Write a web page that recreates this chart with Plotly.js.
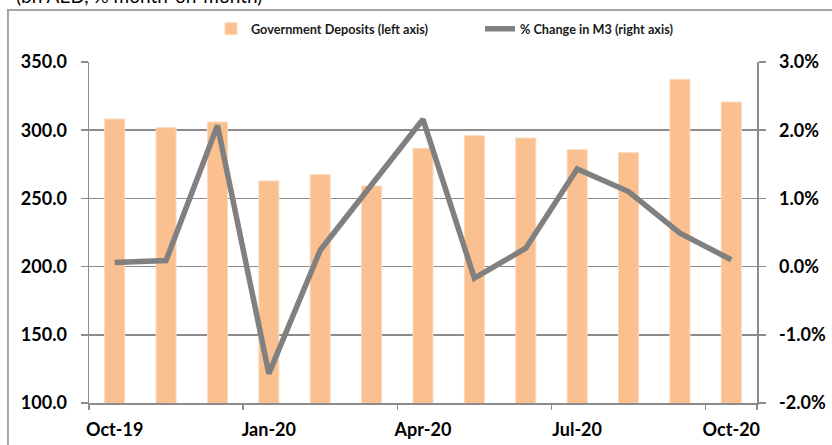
<!DOCTYPE html>
<html>
<head>
<meta charset="utf-8">
<script src="https://cdn.plot.ly/plotly-3.0.1.min.js"></script>
<style>
  html, body { margin: 0; padding: 0; background: #fff; }
  #chart { width: 832px; height: 445px; }
</style>
</head>
<body>
<div id="chart"></div>
<script>
const months = ['Oct-19','Nov-19','Dec-19','Jan-20','Feb-20','Mar-20','Apr-20','May-20','Jun-20','Jul-20','Aug-20','Sep-20','Oct-20'];
const govDeposits = [308.2, 301.8, 306.0, 262.8, 267.4, 259.1, 286.7, 296.0, 294.3, 285.7, 283.5, 337.3, 320.7];
const m3Change = [0.0006, 0.0009, 0.0207, -0.0157, 0.0024, 0.0121, 0.0216, -0.0017, 0.0027, 0.0143, 0.0110, 0.0049, 0.0010];
const labelMonths = ['Oct-19','Jan-20','Apr-20','Jul-20','Oct-20'];
const leftTicks = [100, 150, 200, 250, 300, 350];
const rightTicks = [-0.02, -0.01, 0, 0.01, 0.02, 0.03];
const rightTickText = rightTicks.map(v => (v * 100).toFixed(1) + '%');

const FONT = 'Lato, "Open Sans", sans-serif';
const AX = '#8c8c8c';

const traces = [
  {
    type: 'bar', x: months, y: govDeposits, name: 'Government Deposits (left axis)',
    marker: { color: '#FAC090', line: { color: '#FCD9BC', width: 1 } },
    xaxis: 'x', yaxis: 'y'
  },
  {
    type: 'scatter', mode: 'lines', x: months, y: m3Change, name: '% Change in M3 (right axis)',
    line: { color: '#808080', width: 5.5 },
    xaxis: 'x', yaxis: 'y2'
  }
];

const layout = {
  width: 832, height: 445,
  margin: { l: 89, r: 75, t: 62, b: 42, pad: 0 },
  paper_bgcolor: '#fff', plot_bgcolor: '#fff',
  font: { family: FONT, color: '#000' },
  bargap: 0.61,
  showlegend: true,
  legend: {
    orientation: 'h', x: 0.1826, xanchor: 'left', y: 1.0968, yanchor: 'middle',
    font: { family: FONT, size: 12.7, color: '#1a1a1a', weight: 'bold' },
    bgcolor: 'rgba(0,0,0,0)', itemwidth: 30, tracegroupgap: 0,
    entrywidth: 224, entrywidthmode: 'pixels'
  },
  xaxis: {
    type: 'category', categoryorder: 'array', categoryarray: months,
    range: [-0.5, 12.5],
    tickmode: 'array', tickvals: labelMonths, ticktext: labelMonths,
    tickson: 'boundaries', tickangle: 0,
    ticks: 'outside', ticklen: 5, tickwidth: 1.5, tickcolor: AX,
    showgrid: false, zeroline: false,
    showline: true, linecolor: AX, linewidth: 1.5,
    ticklabelstandoff: 10,
    tickfont: { family: FONT, size: 18, color: '#000', weight: 'bold' }
  },
  yaxis: {
    range: [100, 350], tickmode: 'array', tickvals: leftTicks, tickformat: '.1f',
    ticks: 'outside', ticklen: 7, tickwidth: 1.5, tickcolor: AX,
    showgrid: true, gridcolor: AX, gridwidth: 1.5, zeroline: false,
    showline: true, linecolor: AX, linewidth: 1.5,
    ticklabelstandoff: 10,
    tickfont: { family: FONT, size: 18, color: '#000', weight: 'bold' }
  },
  yaxis2: {
    overlaying: 'y', side: 'right', anchor: 'x',
    range: [-0.02, 0.03], tickmode: 'array', tickvals: rightTicks, ticktext: rightTickText,
    ticks: 'outside', ticklen: 7, tickwidth: 1.5, tickcolor: AX,
    showgrid: false, zeroline: false,
    showline: true, linecolor: AX, linewidth: 1.5,
    ticklabelstandoff: 10,
    tickfont: { family: FONT, size: 18, color: '#000', weight: 'bold' }
  },
  shapes: [
    { type: 'rect', xref: 'paper', yref: 'paper', x0: -0.1213, x1: 1.3, y0: -0.3, y1: 1.1525,
      line: { color: '#a6a6a6', width: 2 }, fillcolor: 'rgba(0,0,0,0)', layer: 'below' }
  ],
  annotations: [
    { xref: 'paper', yref: 'paper', x: -0.113, xanchor: 'left', y: 1.194, yanchor: 'middle',
      text: '(bn AED, % month-on-month)', showarrow: false,
      font: { family: FONT, size: 19, color: '#000' } }
  ]
};

Plotly.newPlot('chart', traces, layout, { displayModeBar: false, staticPlot: true });
</script>
</body>
</html>
